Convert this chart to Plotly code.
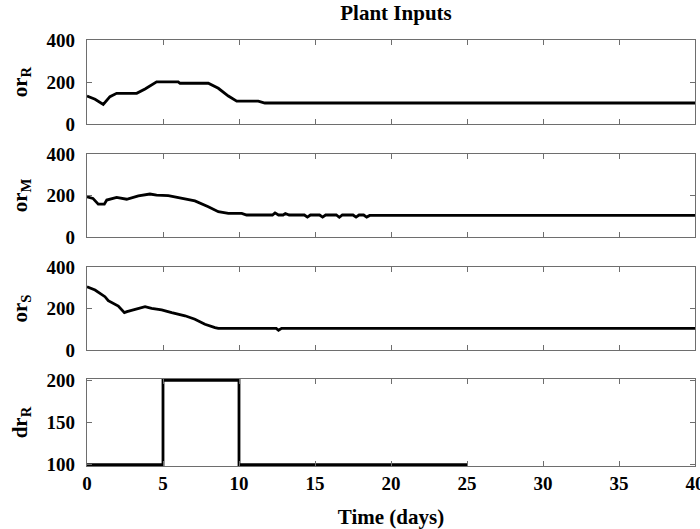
import plotly.graph_objects as go
from plotly.subplots import make_subplots

# Plant input trajectories over the simulation horizon (days)
t_or_r = [0, 0.53, 1.07, 1.51, 1.95, 3.27, 3.82, 4.58, 6.0, 6.12, 7.98, 8.64, 9.3, 9.85, 11.27, 11.7, 40]
or_r = [133, 118, 93, 130, 146, 146, 167, 201, 201, 194, 194, 170, 133, 109, 109, 100, 100]

t_or_m = [0, 0.39, 0.74, 1.14, 1.3, 1.95, 2.61, 3.38, 4.14, 4.58, 5.35, 6.23, 7.1, 7.98, 8.64, 9.3,
          10.18, 10.5, 12.2, 12.37, 12.6, 12.9, 13.05, 13.3, 14.3, 14.5, 14.7, 15.3, 15.5, 15.7,
          16.4, 16.6, 16.8, 17.5, 17.7, 17.9, 18.2, 18.4, 18.6, 40]
or_m = [194, 186, 158, 158, 178, 191, 182, 198, 207, 202, 199, 186, 174, 146, 122, 114,
        114, 106, 106, 116, 106, 106, 113, 106, 106, 96, 106, 106, 96, 106,
        106, 95, 106, 106, 96, 106, 106, 96, 104, 104]

t_or_s = [0, 0.53, 1.18, 1.4, 2.06, 2.46, 2.63, 3.16, 3.82, 4.25, 4.91, 5.57, 6.45, 7.1, 7.76,
          8.42, 8.64, 12.45, 12.6, 12.8, 40]
or_s = [305, 289, 257, 238, 212, 180, 185, 196, 209, 201, 193, 180, 165, 148, 124,
        108, 104, 104, 95, 104, 104]

t_dr_r = [0, 5, 10, 25]
dr_r = [100, 200, 100, 100]

x_ticks = [0, 5, 10, 15, 20, 25, 30, 35, 40]

FONT = "Liberation Serif, Times New Roman, serif"
FRAME = "#6e6e6e"

fig = make_subplots(rows=4, cols=1, shared_xaxes=False, vertical_spacing=0.0)

series = [
    (t_or_r, or_r, "linear"),
    (t_or_m, or_m, "linear"),
    (t_or_s, or_s, "linear"),
    (t_dr_r, dr_r, "hv"),
]
for i, (tx, vy, shape) in enumerate(series, start=1):
    fig.add_trace(
        go.Scatter(x=tx, y=vy, mode="lines", line=dict(color="black", width=2.8, shape=shape),
                   showlegend=False, hoverinfo="skip"),
        row=i, col=1,
    )

domains = [
    [0.8028, 1.0],
    [0.5376, 0.7324],
    [0.2723, 0.4671],
    [0.0, 0.2042],
]
y_titles = ["<b>or<sub>R</sub></b>", "<b>or<sub>M</sub></b>", "<b>or<sub>S</sub></b>", "<b>dr<sub>R</sub></b>"]
y_ranges = [[0, 400], [0, 400], [0, 400], [98.5, 201.5]]
y_tickvals = [[0, 200, 400], [0, 200, 400], [0, 200, 400], [100, 150, 200]]

tick_font = dict(family=FONT, size=19, color="black", weight="bold")

for i in range(4):
    n = "" if i == 0 else str(i + 1)
    last = i == 3
    fig.layout["xaxis" + n].update(
        domain=[0, 1], range=[0, 40], tickvals=x_ticks, showticklabels=last,
        ticks="inside", ticklen=5, tickcolor=FRAME, tickwidth=1,
        showline=True, linecolor=FRAME, linewidth=1.2, mirror="ticks",
        showgrid=False, zeroline=False, tickfont=tick_font, ticklabeloverflow="allow",
        title=dict(text="<b>Time (days)</b>", font=dict(family=FONT, size=21, color="black"),
                   standoff=18) if last else None,
    )
    fig.layout["yaxis" + n].update(
        domain=domains[i], range=y_ranges[i], tickvals=y_tickvals[i],
        ticks="inside", ticklen=5, tickcolor=FRAME, tickwidth=1,
        showline=True, linecolor=FRAME, linewidth=1.2, mirror="ticks",
        showgrid=False, zeroline=False, tickfont=tick_font, ticklabelstandoff=7,
        ticklabeloverflow="allow",
        title=dict(text=y_titles[i], font=dict(family=FONT, size=21, color="black"), standoff=13),
    )

fig.update_layout(
    width=700, height=529,
    margin=dict(l=87, r=5, t=40, b=63, autoexpand=False),
    paper_bgcolor="white", plot_bgcolor="white",
    title=dict(text="<b>Plant Inputs</b>", x=396 / 700, xanchor="center", xref="container",
               y=1 - 13 / 529, yanchor="middle", yref="container",
               font=dict(family=FONT, size=21, color="black")),
)
fig.update_xaxes(automargin=False)
fig.update_yaxes(automargin=False)

fig.write_html("out.html")
